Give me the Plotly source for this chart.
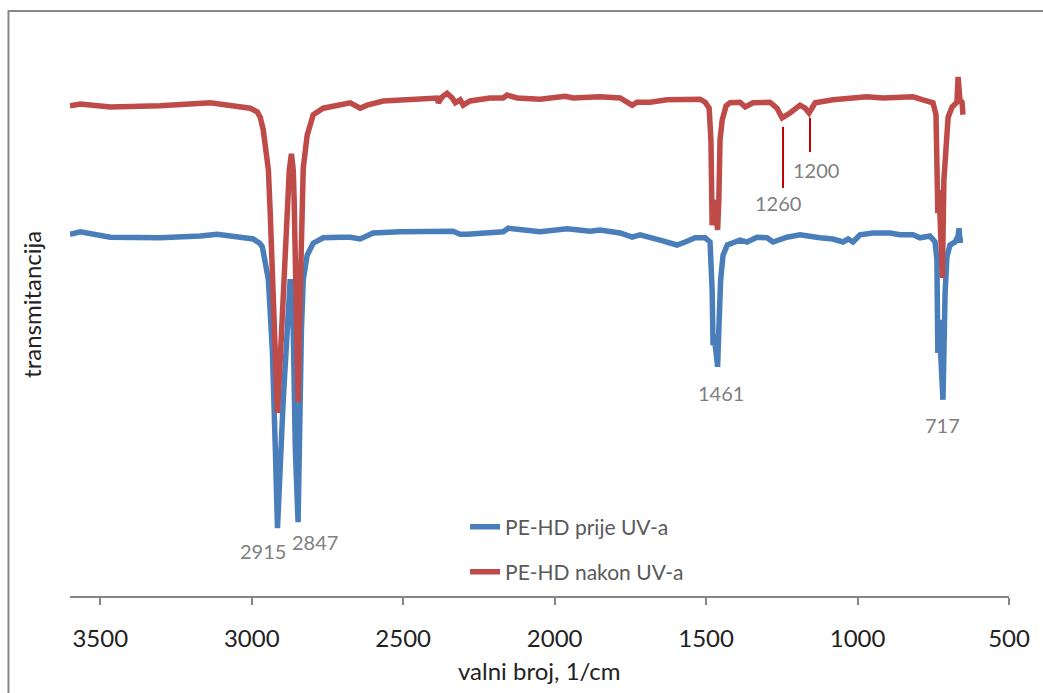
import plotly.graph_objects as go

# Wavenumbers (1/cm) and transmittance (arbitrary %)
wn_before = [3600, 3566, 3467, 3302, 3170, 3114, 3038, 2995, 2972, 2965, 2945, 2932, 2922, 2915,
             2896, 2879, 2873, 2863, 2856, 2847, 2843, 2836, 2830, 2817, 2797, 2764, 2708, 2675,
             2642, 2599, 2510, 2401, 2335, 2322, 2312, 2289, 2213, 2170, 2153, 2114, 2048, 1959,
             1883, 1850, 1784, 1744, 1718, 1652, 1596, 1569, 1536, 1503, 1487, 1480, 1477, 1474,
             1468, 1462, 1458, 1452, 1444, 1430, 1388, 1365, 1332, 1299, 1279, 1233, 1190, 1147,
             1124, 1081, 1048, 1031, 1015, 992, 949, 893, 860, 817, 794, 761, 744, 738, 735, 731,
             726, 718, 711, 705, 695, 678, 668, 665, 662, 652]
t_before = [60.3, 60.7, 59.8, 59.7, 60.0, 60.3, 59.8, 59.5, 58.7, 58.2, 52.7, 41.0, 24.3, 11.3,
            32.7, 51.0, 52.8, 44.3, 24.3, 12.3, 29.3, 44.3, 52.7, 56.8, 58.8, 59.7, 59.8, 59.8,
            59.5, 60.5, 60.7, 60.8, 60.8, 60.5, 60.3, 60.3, 60.7, 60.7, 61.3, 61.0, 60.7, 61.2,
            60.8, 61.0, 60.5, 59.8, 60.2, 59.3, 58.5, 59.0, 59.7, 59.7, 59.0, 51.0, 41.8, 43.5,
            41.0, 38.2, 44.3, 52.7, 56.8, 58.5, 59.3, 59.0, 59.8, 59.7, 59.0, 59.8, 60.2, 59.8,
            59.7, 59.5, 59.0, 59.5, 59.0, 60.2, 60.5, 60.5, 60.2, 60.2, 59.7, 60.0, 59.0, 56.0,
            40.5, 46.0, 42.0, 32.7, 50.5, 56.5, 58.5, 59.0, 60.0, 61.3, 59.3, 59.3]

wn_after = [3600, 3566, 3467, 3302, 3137, 3081, 3005, 2982, 2972, 2962, 2945, 2939, 2932, 2922,
            2915, 2906, 2893, 2883, 2876, 2869, 2863, 2860, 2853, 2847, 2843, 2840, 2833, 2830,
            2817, 2797, 2764, 2708, 2675, 2642, 2619, 2566, 2454, 2388, 2384, 2371, 2355, 2338,
            2328, 2312, 2302, 2279, 2213, 2170, 2157, 2124, 2048, 2015, 1965, 1939, 1850, 1784,
            1757, 1744, 1728, 1685, 1629, 1576, 1520, 1503, 1490, 1484, 1480, 1474, 1468, 1462,
            1458, 1454, 1447, 1434, 1421, 1411, 1388, 1371, 1345, 1289, 1266, 1249, 1223, 1190,
            1173, 1160, 1140, 1081, 969, 916, 860, 817, 784, 751, 741, 738, 735, 731, 720, 715,
            708, 701, 688, 672, 668, 662, 655, 652]
t_after = [81.7, 82.0, 81.5, 81.7, 82.2, 81.8, 81.3, 80.7, 79.8, 77.7, 71.0, 63.8, 54.3, 41.0,
           30.5, 39.3, 52.7, 66.0, 71.0, 73.7, 71.0, 66.0, 44.3, 32.3, 44.3, 49.3, 66.0, 71.3,
           76.8, 80.2, 81.3, 81.8, 82.2, 81.3, 81.8, 82.5, 82.8, 83.0, 82.2, 83.2, 83.8, 83.0,
           82.2, 82.7, 81.8, 82.5, 83.0, 83.0, 83.5, 83.0, 82.8, 83.0, 83.3, 83.0, 83.2, 83.0,
           82.3, 81.8, 82.3, 82.3, 82.7, 82.7, 82.8, 82.3, 81.3, 76.0, 61.8, 66.0, 62.7, 61.0,
           66.0, 76.0, 79.3, 81.7, 82.2, 82.3, 82.3, 81.5, 82.2, 82.3, 81.3, 79.7, 80.5, 81.8,
           81.3, 80.5, 82.2, 82.7, 83.2, 83.0, 83.2, 83.2, 82.7, 82.2, 80.2, 74.3, 63.8, 67.7,
           53.0, 69.3, 76.0, 79.8, 81.5, 82.3, 86.5, 82.7, 82.3, 80.2]

series_names = ["PE-HD prije UV-a", "PE-HD nakon UV-a"]
tick_vals = [3500, 3000, 2500, 2000, 1500, 1000, 500]

# peak labels: (text, wavenumber position, transmittance position)
label_text = ["2915", "2847", "1461", "717", "1260", "1200"]
label_wn = [2962, 2790, 1450, 718, 1262, 1137]
label_t = [7.5, 9.0, 33.8, 28.5, 65.5, 71.0]

# marker lines for the 1260 / 1200 bands
mark_wn = [1246, 1157]
mark_t0 = [68.0, 74.0]
mark_t1 = [78.2, 79.7]

BLUE = "#4A7EBB"
RED = "#BE4B48"
FONT = "Lato"

fig = go.Figure()
fig.add_trace(go.Scatter(x=wn_before, y=t_before, mode="lines", name=series_names[0],
                         line=dict(color=BLUE, width=5.5), legend="legend"))
fig.add_trace(go.Scatter(x=wn_after, y=t_after, mode="lines", name=series_names[1],
                         line=dict(color=RED, width=5.5), legend="legend2"))

annotations = []
for txt, xw, yt in zip(label_text, label_wn, label_t):
    annotations.append(dict(x=xw, y=yt, xref="x", yref="y", text=txt, showarrow=False,
                            font=dict(family=FONT, size=20, color="#7F7F7F"),
                            xanchor="center", yanchor="middle"))
annotations.append(dict(x=0.5, y=-0.1285, xref="paper", yref="paper", text="valni broj, 1/cm",
                        showarrow=False, font=dict(family=FONT, size=24, color="#222222"),
                        xanchor="center", yanchor="middle"))
annotations.append(dict(x=-0.0405, y=0.507, xref="paper", yref="paper", text="transmitancija",
                        showarrow=False, textangle=-90,
                        font=dict(family=FONT, size=24, color="#222222"),
                        xanchor="center", yanchor="middle"))

shapes = []
for xw, y0, y1 in zip(mark_wn, mark_t0, mark_t1):
    shapes.append(dict(type="line", xref="x", yref="y", x0=xw, x1=xw, y0=y0, y1=y1,
                       line=dict(color="#C00000", width=2)))
shapes.append(dict(type="rect", xref="paper", yref="paper", x0=-0.0655, x1=1.04,
                   y0=-0.2, y1=1.0158, line=dict(color="#888888", width=2),
                   fillcolor="rgba(0,0,0,0)", layer="below"))

legend_common = dict(bgcolor="rgba(0,0,0,0)", font=dict(family=FONT, size=21, color="#595959"),
                     xanchor="left", yanchor="middle", itemwidth=30)

fig.update_layout(
    width=1043, height=693,
    margin=dict(l=70, r=34, t=20, b=97),
    paper_bgcolor="white", plot_bgcolor="white",
    showlegend=True,
    legend=dict(x=0.4207, y=0.1198, **legend_common),
    legend2=dict(x=0.4207, y=0.0417, **legend_common),
    xaxis=dict(range=[3600, 500], tickvals=tick_vals, ticks="outside", ticklen=7,
               tickcolor="#868686", tickwidth=1.5, showline=True, linecolor="#868686",
               linewidth=1.5, showgrid=False, zeroline=False, ticklabelstandoff=13,
               tickfont=dict(family=FONT, size=24, color="#222222")),
    yaxis=dict(range=[0, 96], showticklabels=False, showline=False, showgrid=False,
               zeroline=False, ticks=""),
    annotations=annotations,
    shapes=shapes,
)

fig.write_html("out.html")
